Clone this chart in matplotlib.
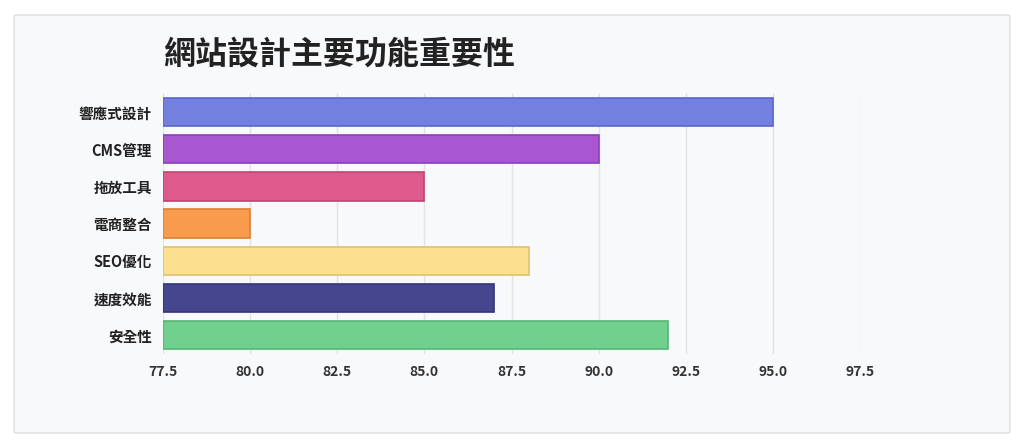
import matplotlib.pyplot as plt
from matplotlib.patches import FancyBboxPatch

plt.rcParams['font.family'] = ['Noto Sans CJK TC', 'DejaVu Sans']

# data
features = ['響應式設計', 'CMS管理', '拖放工具', '電商整合', 'SEO優化', '速度效能', '安全性']
scores = [95, 90, 85, 80, 88, 87, 92]
fill_colors = ['#7480e0', '#a857d0', '#de5a8c', '#f99b4d', '#fde08f', '#45468e', '#72d08f']
edge_colors = ['#5a66c8', '#8e3eb8', '#c24272', '#de8030', '#e0c070', '#33347a', '#56b474']
ticks = [77.5, 80.0, 82.5, 85.0, 87.5, 90.0, 92.5, 95.0, 97.5]

fig = plt.figure(figsize=(10.24, 4.45), dpi=100)
fig.patch.set_facecolor('white')
# light panel behind the chart
panel = FancyBboxPatch((14 / 1024, 12 / 445), 996 / 1024, 418 / 445,
                       boxstyle='round,pad=0,rounding_size=0.004',
                       transform=fig.transFigure, facecolor='#f8f9fb',
                       edgecolor='#dcdde0', linewidth=1, zorder=-10)
fig.patches.append(panel)

ax = fig.add_axes([163 / 1024, 0.205, (860 - 163) / 1024, 0.585])
ax.set_zorder(5)
ax.patch.set_alpha(0)

ypos = range(len(features))
ax.barh(ypos, [s - ticks[0] for s in scores], left=ticks[0], height=0.76,
        color=fill_colors, edgecolor=edge_colors, linewidth=1.2, zorder=3)

ax.set_yticks(list(ypos))
ax.set_yticklabels(features, fontsize=10.5, fontweight='bold', color='#222222')
ax.set_ylim(len(features) - 0.5, -0.5)
ax.set_xlim(ticks[0], ticks[-1])
ax.set_xticks(ticks)
ax.set_xticklabels([f'{t:.1f}' for t in ticks], fontsize=10, fontweight='bold', color='#333333')
ax.tick_params(length=0, pad=8)
ax.grid(axis='x', color='#e2e3e6', linewidth=1, zorder=0)
for side in ax.spines.values():
    side.set_visible(False)

fig.text(163 / 1024, 1 - 55 / 445, '網站設計主要功能重要性', fontsize=23,
         fontweight='bold', color='#222222', va='center', ha='left', zorder=6)

fig.savefig('out.png', dpi=100)
